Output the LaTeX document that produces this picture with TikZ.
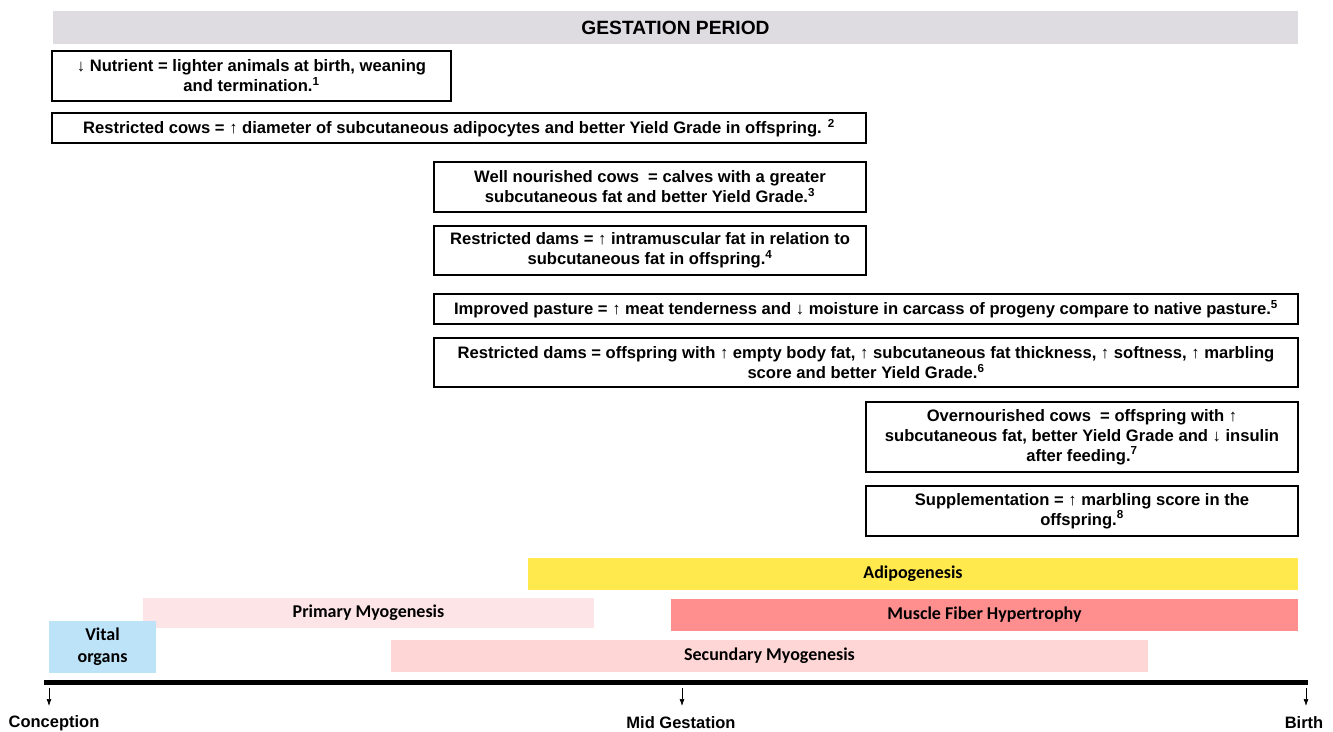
\documentclass[tikz,border=0pt]{standalone}
\usepackage{fontspec}
\setmainfont{Liberation Sans}
\newfontfamily\barfont{Carlito}
\usetikzlibrary{arrows.meta,positioning}

\definecolor{titlegray}{HTML}{DEDBE1}
\definecolor{adipo}{HTML}{FFE94D}
\definecolor{primpink}{HTML}{FDE4E6}
\definecolor{hyperred}{HTML}{FF8F8F}
\definecolor{vitalblue}{HTML}{BDE3F9}
\definecolor{secpink}{HTML}{FFD6D6}

\tikzset{
  fact/.style={draw, line width=1.3pt, align=center, inner sep=0pt,
    font=\bfseries\fontsize{16.6}{20}\selectfont},
  phase/.style={inner sep=0pt, align=center,
    font=\barfont\bfseries\fontsize{18}{22}\selectfont},
  axislabel/.style={inner sep=0pt, font=\bfseries\fontsize{16.5}{18}\selectfont},
  tick/.style={-{Latex[length=7pt,width=5pt]}, line width=0.7pt}
}

\begin{document}
\begin{tikzpicture}[x=1pt, y=-1pt]
  \useasboundingbox (0,0) rectangle (1333,731);

  % title
  \node [fill=titlegray, minimum width=1245pt, minimum height=33pt, inner sep=0pt,
    font=\bfseries\fontsize{19.2}{20}\selectfont] (title) at (675.5,27.5) {GESTATION PERIOD};

  % findings
  \node [fact, minimum width=399pt, minimum height=50pt] (nutrient) at (251.5,76)
    {↓ Nutrient = lighter animals at birth, weaning\\and termination.\textsuperscript{1}};
  \node [fact, minimum width=814pt, minimum height=30pt] (restrcows) at (459,128)
    {Restricted cows = ↑ diameter of subcutaneous adipocytes and better Yield Grade in offspring. \textsuperscript{2}};
  \node [fact, minimum width=432pt, minimum height=50pt] (wellfed) at (650,187)
    {Well nourished cows\ \ = calves with a greater\\subcutaneous fat and better Yield Grade.\textsuperscript{3}};
  \node [fact, minimum width=432pt, minimum height=49pt] (restrdams) at (650,250.5)
    {Restricted dams = ↑ intramuscular fat in relation to\\subcutaneous fat in offspring.\textsuperscript{4}};
  \node [fact, minimum width=864pt, minimum height=30pt] (pasture) at (866,309)
    {Improved pasture = ↑ meat tenderness and ↓ moisture in carcass of progeny compare to native pasture.\textsuperscript{5}};
  \node [fact, minimum width=864pt, minimum height=49pt] (emptyfat) at (866,362.5)
    {Restricted dams = offspring with ↑ empty body fat, ↑ subcutaneous fat thickness, ↑ softness, ↑ marbling\\score and better Yield Grade.\textsuperscript{6}};
  \node [fact, minimum width=432pt, minimum height=70pt] (overfed) at (1082,437)
    {Overnourished cows\ \ = offspring with ↑\\subcutaneous fat, better Yield Grade and ↓ insulin\\after feeding.\textsuperscript{7}};
  \node [fact, minimum width=432pt, minimum height=50pt] (suppl) at (1082,511)
    {Supplementation = ↑ marbling score in the\\offspring.\textsuperscript{8}};

  % developmental phases
  \node [phase, fill=adipo, minimum width=770pt, minimum height=32pt] (adipo) at (913,574) {Adipogenesis};
  \node [phase, fill=primpink, minimum width=451pt, minimum height=30pt] (primary) at (368.5,613) {Primary Myogenesis};
  \node [phase, fill=hyperred, minimum width=627pt, minimum height=32pt] (hyper) at (984.5,615) {Muscle Fiber Hypertrophy};
  \node [phase, fill=vitalblue, minimum width=107pt, minimum height=52pt] (vital) at (102.5,647) {Vital\\organs};
  \node [phase, fill=secpink, minimum width=757pt, minimum height=32pt] (secondary) at (769.5,656) {Secundary Myogenesis};

  % time axis
  \coordinate (axstart) at (44,682);
  \coordinate (axend) at (1308,682);
  \draw [line width=5pt] (axstart) -- (axend);

  \coordinate (concup) at (49,688);   \coordinate (concdown) at (49,706);
  \coordinate (midup) at (682,688);   \coordinate (middown) at (682,706);
  \coordinate (birthup) at (1306,688); \coordinate (birthdown) at (1306,706);
  \draw [tick] (concup) -- (concdown);
  \draw [tick] (midup) -- (middown);
  \draw [tick] (birthup) -- (birthdown);

  \node [axislabel] (conception) at (54,723) {Conception};
  \node [axislabel] (midgest) at (681,723) {Mid Gestation};
  \node [axislabel] (birth) at (1304,723) {Birth};
\end{tikzpicture}
\end{document}
